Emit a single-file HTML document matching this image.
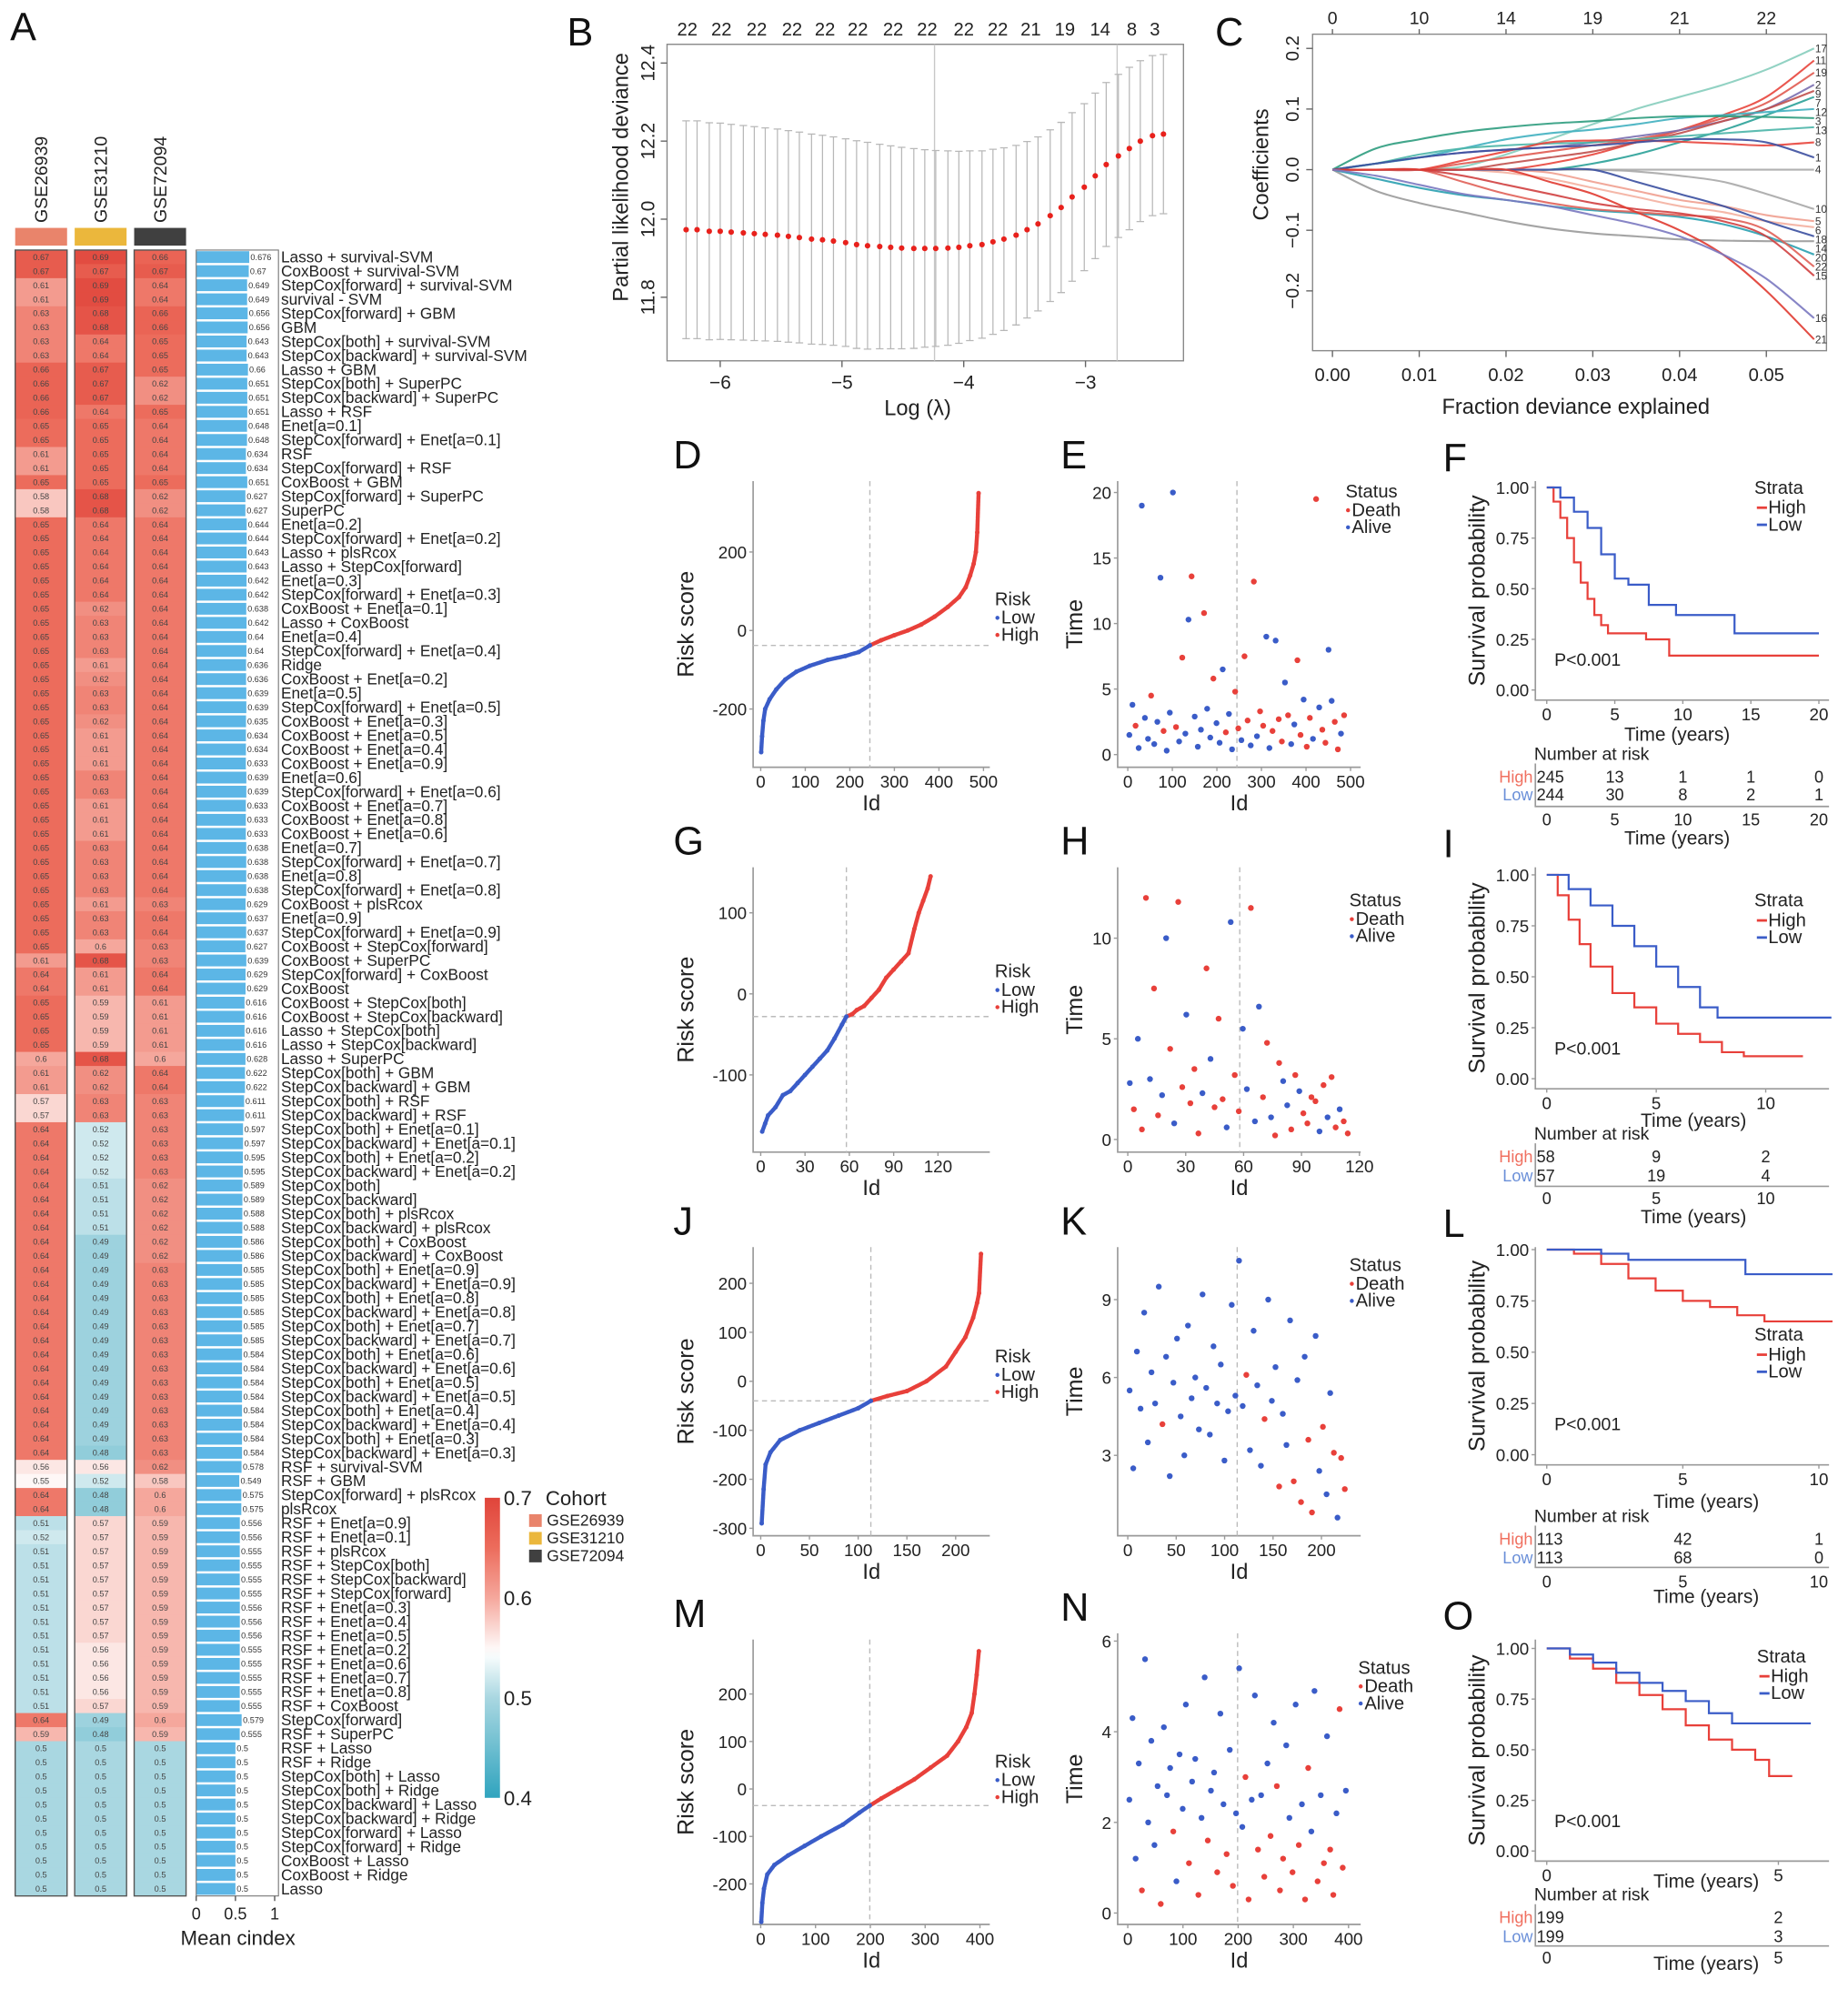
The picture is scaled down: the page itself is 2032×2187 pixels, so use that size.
<!DOCTYPE html>
<html><head><meta charset="utf-8">
<style>
html,body{margin:0;padding:0;background:#fff;}
svg{display:block;font-family:"Liberation Sans",Arial,sans-serif;}
</style></head>
<body>
<svg id="fig" width="2032" height="2187" viewBox="0 0 1460 1571" preserveAspectRatio="none" xmlns="http://www.w3.org/2000/svg">
<g id="gA"></g>
<g id="gB"></g>
<g id="gC"></g>
<g id="gRest"></g>
</svg>
<script>
// ================= DATA =================
const models=["Lasso + survival-SVM","CoxBoost + survival-SVM","StepCox[forward] + survival-SVM","survival - SVM","StepCox[forward] + GBM","GBM","StepCox[both] + survival-SVM","StepCox[backward] + survival-SVM","Lasso + GBM","StepCox[both] + SuperPC",
"StepCox[backward] + SuperPC","Lasso + RSF","Enet[a=0.1]","StepCox[forward] + Enet[a=0.1]","RSF","StepCox[forward] + RSF","CoxBoost + GBM","StepCox[forward] + SuperPC","SuperPC","Enet[a=0.2]",
"StepCox[forward] + Enet[a=0.2]","Lasso + plsRcox","Lasso + StepCox[forward]","Enet[a=0.3]","StepCox[forward] + Enet[a=0.3]","CoxBoost + Enet[a=0.1]","Lasso + CoxBoost","Enet[a=0.4]","StepCox[forward] + Enet[a=0.4]","Ridge",
"CoxBoost + Enet[a=0.2]","Enet[a=0.5]","StepCox[forward] + Enet[a=0.5]","CoxBoost + Enet[a=0.3]","CoxBoost + Enet[a=0.5]","CoxBoost + Enet[a=0.4]","CoxBoost + Enet[a=0.9]","Enet[a=0.6]","StepCox[forward] + Enet[a=0.6]","CoxBoost + Enet[a=0.7]",
"CoxBoost + Enet[a=0.8]","CoxBoost + Enet[a=0.6]","Enet[a=0.7]","StepCox[forward] + Enet[a=0.7]","Enet[a=0.8]","StepCox[forward] + Enet[a=0.8]","CoxBoost + plsRcox","Enet[a=0.9]","StepCox[forward] + Enet[a=0.9]","CoxBoost + StepCox[forward]",
"CoxBoost + SuperPC","StepCox[forward] + CoxBoost","CoxBoost","CoxBoost + StepCox[both]","CoxBoost + StepCox[backward]","Lasso + StepCox[both]","Lasso + StepCox[backward]","Lasso + SuperPC","StepCox[both] + GBM","StepCox[backward] + GBM",
"StepCox[both] + RSF","StepCox[backward] + RSF","StepCox[both] + Enet[a=0.1]","StepCox[backward] + Enet[a=0.1]","StepCox[both] + Enet[a=0.2]","StepCox[backward] + Enet[a=0.2]","StepCox[both]","StepCox[backward]","StepCox[both] + plsRcox","StepCox[backward] + plsRcox",
"StepCox[both] + CoxBoost","StepCox[backward] + CoxBoost","StepCox[both] + Enet[a=0.9]","StepCox[backward] + Enet[a=0.9]","StepCox[both] + Enet[a=0.8]","StepCox[backward] + Enet[a=0.8]","StepCox[both] + Enet[a=0.7]","StepCox[backward] + Enet[a=0.7]","StepCox[both] + Enet[a=0.6]","StepCox[backward] + Enet[a=0.6]",
"StepCox[both] + Enet[a=0.5]","StepCox[backward] + Enet[a=0.5]","StepCox[both] + Enet[a=0.4]","StepCox[backward] + Enet[a=0.4]","StepCox[both] + Enet[a=0.3]","StepCox[backward] + Enet[a=0.3]","RSF + survival-SVM","RSF + GBM","StepCox[forward] + plsRcox","plsRcox",
"RSF + Enet[a=0.9]","RSF + Enet[a=0.1]","RSF + plsRcox","RSF + StepCox[both]","RSF + StepCox[backward]","RSF + StepCox[forward]","RSF + Enet[a=0.3]","RSF + Enet[a=0.4]","RSF + Enet[a=0.5]","RSF + Enet[a=0.2]",
"RSF + Enet[a=0.6]","RSF + Enet[a=0.7]","RSF + Enet[a=0.8]","RSF + CoxBoost","StepCox[forward]","RSF + SuperPC","RSF + Lasso","RSF + Ridge","StepCox[both] + Lasso","StepCox[both] + Ridge",
"StepCox[backward] + Lasso","StepCox[backward] + Ridge","StepCox[forward] + Lasso","StepCox[forward] + Ridge","CoxBoost + Lasso","CoxBoost + Ridge","Lasso"];
const c26939=[.67,.67,.61,.61,.63,.63,.63,.63,.66,.66,.66,.66,.65,.65,.61,.61,.65,.58,.58,.65,
.65,.65,.65,.65,.65,.65,.65,.65,.65,.65,.65,.65,.65,.65,.65,.65,.65,.65,.65,.65,
.65,.65,.65,.65,.65,.65,.65,.65,.65,.65,.61,.64,.64,.65,.65,.65,.65,.6,.61,.61,
.57,.57,.64,.64,.64,.64,.64,.64,.64,.64,.64,.64,.64,.64,.64,.64,.64,.64,.64,.64,
.64,.64,.64,.64,.64,.64,.56,.55,.64,.64,.51,.52,.51,.51,.51,.51,.51,.51,.51,.51,
.51,.51,.51,.51,.64,.59,.5,.5,.5,.5,.5,.5,.5,.5,.5,.5,.5];
const c31210=[.69,.67,.69,.69,.68,.68,.64,.64,.67,.67,.67,.64,.65,.65,.65,.65,.65,.68,.68,.64,
.64,.64,.64,.64,.64,.62,.63,.63,.63,.61,.62,.63,.63,.62,.61,.61,.61,.63,.63,.61,
.61,.61,.63,.63,.63,.63,.61,.63,.63,.6,.68,.61,.61,.59,.59,.59,.59,.68,.62,.62,
.63,.63,.52,.52,.52,.52,.51,.51,.51,.51,.49,.49,.49,.49,.49,.49,.49,.49,.49,.49,
.49,.49,.49,.49,.49,.48,.56,.52,.48,.48,.57,.57,.57,.57,.57,.57,.57,.57,.57,.56,
.56,.56,.56,.57,.49,.48,.5,.5,.5,.5,.5,.5,.5,.5,.5,.5,.5];
const c72094=[.66,.67,.64,.64,.66,.66,.65,.65,.65,.62,.62,.65,.64,.64,.64,.64,.65,.62,.62,.64,
.64,.64,.64,.64,.64,.64,.64,.64,.64,.64,.64,.64,.64,.64,.64,.64,.64,.64,.64,.64,
.64,.64,.64,.64,.64,.64,.63,.64,.64,.63,.63,.64,.64,.61,.61,.61,.61,.6,.64,.64,
.63,.63,.63,.63,.63,.63,.62,.62,.62,.62,.62,.62,.63,.63,.63,.63,.63,.63,.63,.63,
.63,.63,.63,.63,.63,.63,.62,.58,.6,.6,.59,.59,.59,.59,.59,.59,.59,.59,.59,.59,
.59,.59,.59,.59,.6,.59,.5,.5,.5,.5,.5,.5,.5,.5,.5,.5,.5];
const meanC=[.676,.67,.649,.649,.656,.656,.643,.643,.66,.651,.651,.651,.648,.648,.634,.634,.651,.627,.627,.644,
.644,.643,.643,.642,.642,.638,.642,.64,.64,.636,.636,.639,.639,.635,.634,.634,.633,.639,.639,.633,
.633,.633,.638,.638,.638,.638,.629,.637,.637,.627,.639,.629,.629,.616,.616,.616,.616,.628,.622,.622,
.611,.611,.597,.597,.595,.595,.589,.589,.588,.588,.586,.586,.585,.585,.585,.585,.585,.585,.584,.584,
.584,.584,.584,.584,.584,.584,.578,.549,.575,.575,.556,.556,.555,.555,.555,.555,.556,.556,.556,.555,
.555,.555,.555,.555,.579,.555,.5,.5,.5,.5,.5,.5,.5,.5,.5,.5,.5];
const cohortNames=["GSE26939","GSE31210","GSE72094"];
const colorbarTicks=[0.4,0.5,0.6,0.7];
const barTicks=[0,0.5,1];

// Panel B
const lamB=[-6.28,-6.19,-6.09,-6.0,-5.91,-5.81,-5.72,-5.63,-5.53,-5.44,-5.35,-5.25,-5.16,-5.07,-4.97,-4.88,-4.79,-4.69,-4.6,-4.51,-4.41,-4.32,-4.23,-4.13,-4.04,-3.95,-3.85,-3.76,-3.67,-3.57,-3.48,-3.39,-3.29,-3.2,-3.11,-3.01,-2.92,-2.83,-2.73,-2.64,-2.55,-2.45,-2.36];
const devB=[11.973,11.973,11.969,11.969,11.967,11.965,11.963,11.961,11.959,11.956,11.953,11.949,11.947,11.944,11.940,11.935,11.932,11.930,11.928,11.926,11.925,11.925,11.925,11.926,11.928,11.932,11.935,11.942,11.949,11.959,11.973,11.988,12.009,12.030,12.057,12.082,12.111,12.140,12.162,12.181,12.2,12.214,12.218];
const seB=[.279,.279,.278,.277,.276,.275,.274,.273,.272,.271,.27,.269,.268,.267,.266,.266,.265,.262,.26,.258,.256,.253,.251,.249,.246,.243,.24,.237,.234,.23,.226,.223,.22,.218,.216,.214,.212,.21,.209,.208,.206,.205,.204];
const topLamB=[-6.27,-5.99,-5.70,-5.41,-5.14,-4.87,-4.58,-4.30,-4.0,-3.72,-3.45,-3.17,-2.88,-2.62,-2.43];
const topNB=[22,22,22,22,22,22,22,22,22,22,21,19,14,8,3];
const xTicksB=[-6,-5,-4,-3];
const yTicksB=[11.8,12.0,12.2,12.4];
const vlinesB=[-4.24,-2.74];

// Panel C
const coefXs=[0,0.005,0.01,0.015,0.02,0.025,0.03,0.035,0.04,0.045,0.05,0.0555];
const coefLabels=["17","11","19","2","9","7","12","3","13","8","1","4","10","5","6","18","14","20","22","15","21","16"];
const coefColors=["#86cdbd","#e8453c","#e05a50","#7a6fb0","#c0504d","#2aa198","#40b0c0","#2e9c7e","#4bb5a8","#e8453c","#3c4fa0","#aaaaaa","#a8a8a8","#f0a090","#f4b0a0","#3a4fa0","#9a9a9a","#2aa0b0","#e06058","#d04040","#e03a30","#7a78c0"];
const c17=[0,0,0,0.005,0.025,0.05,0.075,0.1,0.12,0.14,0.165,0.2];
const c11=[0,0,0,0,0,0.01,0.025,0.045,0.065,0.09,0.12,0.18];
const c19=[0,0,0,0.01,0.02,0.03,0.04,0.05,0.065,0.085,0.11,0.16];
const c2=[0,0.01,0.02,0.028,0.033,0.037,0.045,0.055,0.065,0.08,0.1,0.14];
const c9=[0,0,0,0,0.01,0.02,0.03,0.045,0.06,0.08,0.1,0.13];
const c7=[0,0,0,0,0,0,0.01,0.025,0.045,0.065,0.09,0.12];
const c12=[0,0.01,0.02,0.035,0.05,0.06,0.066,0.075,0.085,0.09,0.095,0.1];
const c3=[0,0.035,0.05,0.062,0.07,0.076,0.08,0.085,0.088,0.088,0.087,0.085];
const c13=[0,0.01,0.025,0.035,0.04,0.043,0.045,0.05,0.055,0.06,0.065,0.07];
const c8=[0,0,0,0.015,0.03,0.045,0.048,0.048,0.046,0.043,0.04,0.045];
const c1=[0,0.01,0.02,0.028,0.033,0.037,0.04,0.045,0.05,0.05,0.045,0.02];
const c4=[0,0,0,0,0,0,0,0,0,0,0,0];
const c10=[0,0,0,0,0,0,0,-0.003,-0.01,-0.02,-0.04,-0.065];
const c5=[0,0,0,0,0,-0.005,-0.02,-0.035,-0.05,-0.06,-0.075,-0.085];
const c6=[0,0,0,0,-0.005,-0.015,-0.03,-0.045,-0.06,-0.07,-0.085,-0.095];
const c18=[0,0,0,0,0,0,0,-0.02,-0.04,-0.06,-0.085,-0.11];
const c14=[0,-0.035,-0.055,-0.07,-0.085,-0.097,-0.105,-0.11,-0.115,-0.117,-0.118,-0.118];
const c20=[0,-0.015,-0.03,-0.042,-0.05,-0.06,-0.067,-0.072,-0.078,-0.09,-0.11,-0.14];
const c22=[0,0,0,-0.02,-0.04,-0.055,-0.065,-0.07,-0.075,-0.08,-0.1,-0.16];
const c15=[0,0,0,-0.01,-0.025,-0.04,-0.055,-0.065,-0.072,-0.085,-0.11,-0.175];
const c21=[0,0,0,0,0,-0.02,-0.04,-0.07,-0.1,-0.14,-0.2,-0.28];
const c16=[0,-0.01,-0.025,-0.04,-0.05,-0.06,-0.075,-0.09,-0.11,-0.14,-0.18,-0.245];
const coefSeries=[c17,c11,c19,c2,c9,c7,c12,c3,c13,c8,c1,c4,c10,c5,c6,c18,c14,c20,c22,c15,c21,c16];
const xTicksC=[0,0.01,0.02,0.03,0.04,0.05];
const topNC=[0,10,14,19,21,22];
const yTicksC=[-0.2,-0.1,0,0.1,0.2];

// Risk score curves (sorted): ids and scores
const idsD=[1,3,6,10,20,35,55,80,110,150,190,220,245,270,300,330,360,390,420,445,460,470,478,483,486,489];
const scoreD=[-310,-270,-230,-200,-175,-150,-125,-105,-90,-75,-65,-55,-38,-25,-12,0,15,35,60,85,110,140,170,200,250,350];
const idsG=[1,3,5,10,15,20,25,30,35,40,45,50,55,58,62,65,70,75,80,85,90,95,100,104,107,110,113,115];
const scoreG=[-170,-160,-150,-140,-125,-120,-110,-100,-90,-80,-70,-55,-38,-28,-25,-20,-15,-5,5,20,30,40,50,80,100,115,130,145];
const idsJ=[1,3,5,10,20,40,60,80,100,113,130,150,170,190,200,210,218,222,224,226];
const scoreJ=[-290,-220,-170,-145,-120,-100,-85,-70,-55,-40,-30,-20,0,30,60,90,130,160,180,260];
const idsM=[1,3,6,12,25,50,80,110,150,180,199,220,250,280,310,340,360,375,385,390,394,398];
const scoreM=[-280,-240,-210,-180,-160,-140,-120,-100,-75,-50,-35,-20,0,20,45,70,100,130,160,200,240,290];

// Survival time scatter (time by patient, ordered by risk id)
const timeE=[1.5,3.8,2.2,0.5,19,2.8,1.2,4.5,0.8,2.5,13.5,1.8,0.3,3.2,20,2.1,1.0,7.4,1.6,10.3,13.6,2.9,0.6,1.9,10.8,3.5,1.3,5.8,2.4,0.9,6.5,1.7,3.1,0.4,4.8,2.0,1.1,7.5,2.6,0.7,13.2,1.4,3.3,2.2,9.0,0.5,1.8,8.7,2.7,1.0,5.5,3.0,0.8,2.3,7.2,1.5,4.2,0.6,2.8,1.2,19.5,3.6,1.9,0.9,8.0,4.1,2.5,0.4,1.6,3.0];
const statusE="AADAAAADAAADAAADADAADAAADAADAAADAADDADDADADDAADADDADAADDADDADADDAADDAD";
const timeH=[2.8,1.5,5,0.5,12,3,7.5,1.2,2.2,10,4.5,0.8,11.8,2.6,6.2,1.8,3.5,0.3,2.3,8.5,4,1.6,6,2,0.6,10.8,3.2,1.4,5.5,2.5,11.5,0.9,6.6,2.1,4.8,1.1,0.2,3.8,2.9,1.7,0.5,3.2,2.4,1.3,0.8,2.1,1.9,0.4,2.7,1.1,3.1,0.6,1.5,0.9,0.3];
const statusH="ADADDADDAADADDADDDADADDDAADDAADAADDADDAADDADDDDADADDADD";
const timeK=[5.5,2.5,7,4.8,8.5,3.5,6.2,5,9.5,4.2,6.8,2.2,5.8,7.5,4.5,3,8,5.2,6,4,9.2,5.6,3.8,7.2,5,6.5,2.8,4.7,8.8,5.3,10.5,4.9,6.1,3.2,7.8,5.7,2.6,4.4,9,5.1,6.4,1.8,4.6,3.4,8.2,2,5.9,1.2,6.8,3.6,0.8,7.6,2.4,4.1,1.5,5.4,3.1,0.6,2.9,1.7];
const statusK="AAAAAAAAADAAAAAAAAAAAAAAAAAAAAAADAAAADAAADAAADADADDAADAADADD";
const timeN=[2.5,4.3,1.2,3.3,0.5,5.6,2,3.8,1.5,2.8,0.2,4.1,2.6,3.2,1.8,0.7,3.5,2.3,4.6,1.1,2.9,3.4,0.4,2.1,5.2,1.6,2.7,3.1,0.9,4.4,2.4,1.3,3.6,0.6,2.2,5.4,1.9,3,0.3,2.5,4.8,1.4,2.6,0.8,3.3,1.7,4.2,2.8,0.5,1.2,3.7,2.1,0.9,4.6,1.5,2.4,0.3,3.2,1.8,4.9,0.7,2.6,1.1,3.9,1.4,0.4,2.2,4.5,1,2.7];
const statusN="AAAADAAAAADAAADAAAADAADAADAADAADADAAADDAADADADADDDAADADADDAADADADDADDA";

// KM curves
const kmFHighT=[0,0.5,1,1.5,2,2.5,3,3.5,4,4.5,5,7.3,9,20];
const kmFHighS=[1,0.93,0.85,0.75,0.63,0.53,0.45,0.37,0.32,0.28,0.28,0.25,0.17,0.17];
const kmFLowT=[0,1,2,3,4,5,6,7.5,9.5,13.8,20];
const kmFLowS=[1,0.95,0.88,0.8,0.67,0.55,0.52,0.42,0.37,0.28,0.28];
const kmIHighT=[0,0.5,1,1.5,2,3,4,5,6,7,8,9,11.7];
const kmIHighS=[1,0.9,0.78,0.66,0.55,0.42,0.35,0.27,0.22,0.18,0.13,0.11,0.11];
const kmILowT=[0,1,2,3,4,5,6,7,7.8,13];
const kmILowS=[1,0.93,0.85,0.75,0.65,0.55,0.45,0.35,0.3,0.3];
const kmLHighT=[0,1,2,3,4,5,6,7,8,10.5];
const kmLHighS=[1,0.98,0.93,0.86,0.8,0.75,0.72,0.68,0.65,0.65];
const kmLLowT=[0,2,3,7.3,10.5];
const kmLLowS=[1,0.98,0.95,0.88,0.88];
const kmOHighT=[0,0.5,1,1.5,2,2.5,3,3.5,4,4.5,4.8,5.3];
const kmOHighS=[1,0.95,0.9,0.83,0.77,0.7,0.62,0.55,0.5,0.45,0.37,0.37];
const kmOLowT=[0,0.5,1,1.5,2,2.5,3,3.5,4,5.7];
const kmOLowS=[1,0.97,0.93,0.88,0.83,0.79,0.74,0.68,0.63,0.63];
const riskTimesF=[0,5,10,15,20], riskHighF=[245,13,1,1,0], riskLowF=[244,30,8,2,1];
const riskTimesI=[0,5,10], riskHighI=[58,9,2], riskLowI=[57,19,4];
const riskTimesL=[0,5,10], riskHighL=[113,42,1], riskLowL=[113,68,0];
const riskTimesO=[0,5], riskHighO=[199,2], riskLowO=[199,3];

// ================= DRAWING =================
const NS='http://www.w3.org/2000/svg';
function mk(tag,attrs,parent,txt){const e=document.createElementNS(NS,tag);for(const k in attrs)e.setAttribute(k,attrs[k]);if(txt!==undefined)e.textContent=txt;parent.appendChild(e);return e;}
const RED='#e8403a', BLUE='#3a5cc8', AX='#9a9a9a', TXT='#222';

function heatColor(v){
  const st=[[0.4,[48,164,190]],[0.5,[169,215,225]],[0.545,[255,255,255]],[0.6,[245,167,156]],[0.65,[236,108,92]],[0.7,[224,68,58]]];
  if(v<=st[0][0])return 'rgb('+st[0][1]+')';
  for(let i=1;i<st.length;i++){if(v<=st[i][0]){const t=(v-st[i-1][0])/(st[i][0]-st[i-1][0]);const a=st[i-1][1],b=st[i][1];return 'rgb('+a.map((c,j)=>Math.round(c+(b[j]-c)*t)).join(',')+')';}}
  return 'rgb('+st[st.length-1][1]+')';
}

function letter(g,ch,x,y){const t=mk('text',{x:x,y:y,'font-size':31,fill:'#111'},g,ch);

}

// ---------- Panel A ----------
(function(){
const g=document.getElementById('gA');
letter(g,'A',8,32);
const top0=197.5, pitch=(1497.5-197.5)/models.length;
const colX=[12,59,106], colW=41;
const cohortCols=['#e9846b','#ebb73c','#404040'];
const cols=[c26939,c31210,c72094];
for(let c=0;c<3;c++){
  const lab=mk('text',{x:0,y:0,'font-size':14,fill:TXT,transform:'translate('+(colX[c]+colW/2+5)+',176) rotate(-90)'},g,cohortNames[c]);
  
  
  const hb=mk('rect',{x:colX[c],y:180,width:colW,height:14,fill:cohortCols[c]},g);
  
  
  for(let r=0;r<models.length;r++){
    const v=cols[c][r];
    const cell=mk('rect',{x:colX[c],y:top0+r*pitch,width:colW,height:pitch+0.3,fill:heatColor(v)},g);
    
    
    const tv=mk('text',{x:colX[c]+colW/2,y:top0+r*pitch+pitch/2+2.3,'font-size':6.6,fill:'#444','text-anchor':'middle'},g,String(v));
    
    
  }
  const bx=mk('rect',{x:colX[c],y:top0,width:colW,height:pitch*models.length,fill:'none',stroke:'#555','stroke-width':1},g);
  
  
}
const bx0=155, bscale=62;
for(let r=0;r<models.length;r++){
  const y=top0+r*pitch;
  const b=mk('rect',{x:bx0,y:y+0.9,width:meanC[r]*bscale,height:pitch-1.8,fill:'#5cb6e6'},g);
  
  
  const t=mk('text',{x:bx0+meanC[r]*bscale+1,y:y+pitch/2+2.3,'font-size':6.6,fill:'#333'},g,String(meanC[r]));
  
  
  const lab=mk('text',{x:222,y:y+pitch/2+4.2,'font-size':12.4,fill:TXT},g,models[r]);
  
  
}
const bb=mk('rect',{x:bx0,y:top0,width:65,height:pitch*models.length,fill:'none',stroke:'#777','stroke-width':0.8},g);


for(const tk of barTicks){
  const x=bx0+tk*bscale;
  const l=mk('line',{x1:x,x2:x,y1:top0+pitch*models.length,y2:top0+pitch*models.length+4,stroke:'#555'},g);
  
  
  const t=mk('text',{x:x,y:1516,'font-size':13,'text-anchor':'middle',fill:TXT},g,String(tk));
  
  
}
const xt=mk('text',{x:188,y:1536,'font-size':16,'text-anchor':'middle',fill:TXT},g,'Mean cindex');


const defs=mk('defs',{},g);
const lg=mk('linearGradient',{id:'cbg',x1:0,y1:1,x2:0,y2:0},defs);
for(let i=0;i<=30;i++){const v=0.4+0.3*i/30;mk('stop',{offset:(i/30),'stop-color':heatColor(v)},lg);}
const cbTop=1183, cbBot=1420;
const cb=mk('rect',{x:383,y:cbTop,width:12,height:cbBot-cbTop,fill:'url(#cbg)'},g);


for(const v of colorbarTicks){
  const y=cbBot-(v-0.4)/0.3*(cbBot-cbTop);
  const t=mk('text',{x:398,y:y+6,'font-size':16,fill:TXT},g,v.toFixed(1));
  
  
}
const ct=mk('text',{x:431,y:1189,'font-size':16,fill:TXT},g,'Cohort');


for(let c=0;c<3;c++){
  const s=mk('rect',{x:418,y:1196+c*14,width:10,height:10,fill:cohortCols[c]},g);
  
  
  const t=mk('text',{x:432,y:1205+c*14,'font-size':12.5,fill:TXT},g,cohortNames[c]);
  
  
}
})();

// ---------- Panel B ----------
(function(){
const g=document.getElementById('gB');
letter(g,'B',448,36);
const L=527,R=935,T=35,B=285;
const xAt=l=>569+(l+6)*96.2, yAt=v=>49.8+(12.4-v)*308.3;
const box=mk('rect',{x:L,y:T,width:R-L,height:B-T,fill:'none',stroke:'#888','stroke-width':1},g);


for(const v of vlinesB){const l=mk('line',{x1:xAt(v),x2:xAt(v),y1:T,y2:B,stroke:'#c8c8c8','stroke-width':1},g);

}
for(let i=0;i<lamB.length;i++){
  const x=xAt(lamB[i]), y1=yAt(devB[i]+seB[i]), y2=yAt(devB[i]-seB[i]);
  const e=mk('path',{d:'M'+x+','+y1+'V'+y2+'M'+(x-3)+','+y1+'H'+(x+3)+'M'+(x-3)+','+y2+'H'+(x+3),stroke:'#b8b8b8','stroke-width':0.9,fill:'none'},g);
  
  
}
for(let i=0;i<lamB.length;i++){
  const d=mk('circle',{cx:xAt(lamB[i]),cy:yAt(devB[i]),r:2.2,fill:'#e8211c'},g);
  
  
}
for(const v of xTicksB){
  const l=mk('line',{x1:xAt(v),x2:xAt(v),y1:B,y2:B+5,stroke:'#666'},g);
  
  
  const t=mk('text',{x:xAt(v),y:B+22,'font-size':15,'text-anchor':'middle',fill:TXT},g,v<0?'\u2212'+Math.abs(v):String(v));
  
  
}
for(const v of yTicksB){
  const y=yAt(v);
  const l=mk('line',{x1:L-5,x2:L,y1:y,y2:y,stroke:'#666'},g);
  
  
  const t=mk('text',{x:0,y:0,'font-size':15,'text-anchor':'middle',fill:TXT,transform:'translate('+(L-10)+','+y+') rotate(-90)'},g,v.toFixed(1));
  
  
}
for(let i=0;i<topLamB.length;i++){
  const t=mk('text',{x:xAt(topLamB[i]),y:28,'font-size':14.5,'text-anchor':'middle',fill:TXT},g,String(topNB[i]));
  
  
}
const xt=mk('text',{x:725,y:328,'font-size':17,'text-anchor':'middle',fill:TXT},g,'Log (\u03bb)');


const yt=mk('text',{x:0,y:0,'font-size':17,'text-anchor':'middle',fill:TXT,transform:'translate(496,140) rotate(-90)'},g,'Partial likelihood deviance');


})();

// ---------- Panel C ----------
(function(){
const g=document.getElementById('gC');
letter(g,'C',960,36);
const L=1037,R=1443,T=27,B=277;
const xAt=f=>1052.7+f*6856, yAt=v=>134-v*478.8;
const box=mk('rect',{x:L,y:T,width:R-L,height:B-T,fill:'none',stroke:'#888','stroke-width':1},g);


function smooth(pts){let d='M'+pts[0][0]+','+pts[0][1];for(let i=0;i<pts.length-1;i++){const p0=pts[Math.max(0,i-1)],p1=pts[i],p2=pts[i+1],p3=pts[Math.min(pts.length-1,i+2)];
d+='C'+(p1[0]+(p2[0]-p0[0])/6)+','+(p1[1]+(p2[1]-p0[1])/6)+' '+(p2[0]-(p3[0]-p1[0])/6)+','+(p2[1]-(p3[1]-p1[1])/6)+' '+p2[0]+','+p2[1];}return d;}
for(let s=0;s<coefSeries.length;s++){
  const pts=coefXs.map((f,i)=>[xAt(f),yAt(coefSeries[s][i])]);
  const p=mk('path',{d:smooth(pts),fill:'none',stroke:coefColors[s],'stroke-width':1.5,opacity:0.9},g);
  
  
}
const ends=coefSeries.map((c,i)=>({y:yAt(c[c.length-1]),lab:coefLabels[i]})).sort((a,b)=>a.y-b.y);
let prev=-1e9;
for(const e of ends){let y=Math.max(e.y,prev+7.2);prev=y;
  const t=mk('text',{x:1434,y:y+3,'font-size':8.5,fill:'#333'},g,e.lab);
  
  }
for(let i=0;i<xTicksC.length;i++){
  const x=xAt(xTicksC[i]);
  const l=mk('line',{x1:x,x2:x,y1:B,y2:B+5,stroke:'#666'},g);
  
  
  const t=mk('text',{x:x,y:B+24,'font-size':14.5,'text-anchor':'middle',fill:TXT},g,xTicksC[i].toFixed(2));
  
  
  const l2=mk('line',{x1:x,x2:x,y1:T,y2:T-4,stroke:'#666'},g);
  
  
  const t2=mk('text',{x:x,y:19,'font-size':14,'text-anchor':'middle',fill:TXT},g,String(topNC[i]));
  
  
}
for(const v of yTicksC){
  const y=yAt(v);
  const l=mk('line',{x1:L-5,x2:L,y1:y,y2:y,stroke:'#666'},g);
  
  
  const t=mk('text',{x:0,y:0,'font-size':14.5,'text-anchor':'middle',fill:TXT,transform:'translate('+(L-11)+','+y+') rotate(-90)'},g,(v<0?'\u2212':'')+Math.abs(v).toFixed(1));
  
  
}
const xt=mk('text',{x:1245,y:327,'font-size':17,'text-anchor':'middle',fill:TXT},g,'Fraction deviance explained');


const yt=mk('text',{x:0,y:0,'font-size':17,'text-anchor':'middle',fill:TXT,transform:'translate(1002,130) rotate(-90)'},g,'Coefficients');


})();

// ---------- Generic helpers for D-O ----------
const gR=document.getElementById('gRest');
function axes(g,p,xticks,yticks,xfmt,yfmt){
  const a=mk('path',{d:'M'+p.L+','+p.T+'V'+p.B+'H'+p.R,stroke:AX,'stroke-width':1.2,fill:'none'},g);
  
  
  for(const v of xticks){const x=p.xAt(v);
    const l=mk('line',{x1:x,x2:x,y1:p.B,y2:p.B+3,stroke:AX},g);
    
    
    const t=mk('text',{x:x,y:p.B+16,'font-size':13.5,'text-anchor':'middle',fill:TXT},g,xfmt(v));
    
    }
  for(const v of yticks){const y=p.yAt(v);
    const l=mk('line',{x1:p.L-3,x2:p.L,y1:y,y2:y,stroke:AX},g);
    
    
    const t=mk('text',{x:p.L-5,y:y+5,'font-size':13.5,'text-anchor':'end',fill:TXT},g,yfmt(v));
    
    }
}
function ytitle(g,txt,x,y){const t=mk('text',{x:0,y:0,'font-size':18,'text-anchor':'middle',fill:TXT,transform:'translate('+x+','+y+') rotate(-90)'},g,txt);

}
function xtitle(g,txt,x,y,fs){const t=mk('text',{x:x,y:y,'font-size':fs||17,'text-anchor':'middle',fill:TXT},g,txt);

}
function legend(g,title,items,x,y){
  const t=mk('text',{x:x,y:y,'font-size':14.5,fill:TXT},g,title);
  
  
  items.forEach((it,i)=>{
    const m=mk('circle',{cx:x+2,cy:y+10+i*13.5,r:1.6,fill:it[1]},g);
    
    
    const tt=mk('text',{x:x+5,y:y+14.5+i*13.5,'font-size':14.5,fill:TXT},g,it[0]);
    
    
  });
}
function riskPanel(p,ids,scores,cut,hline,xticks,yticks,lx,ly){
  const g=mk('g',{},gR);
  
  
  letter(g,p.name.toUpperCase(),p.L-63,p.T-10);
  axes(g,p,xticks,yticks,v=>String(v),v=>(v<0?'-':'')+Math.abs(v));
  const hl=mk('line',{x1:p.L,x2:p.R,y1:p.yAt(hline),y2:p.yAt(hline),stroke:'#bbb','stroke-dasharray':'4,3'},g);
  
  
  const vl=mk('line',{x1:p.xAt(cut),x2:p.xAt(cut),y1:p.T,y2:p.B,stroke:'#bbb','stroke-dasharray':'4,3'},g);
  
  
  const low=[],high=[];
  ids.forEach((id,i)=>{const pt=p.xAt(id)+','+p.yAt(scores[i]);if(id<=cut)low.push(pt);if(id>=cut)high.push(pt);});
  const pl=mk('polyline',{points:low.join(' '),fill:'none',stroke:BLUE,'stroke-width':3.2,'stroke-linejoin':'round','stroke-linecap':'round','stroke-dasharray':'2.5,0.6'},g);
  
  
  const ph=mk('polyline',{points:high.join(' '),fill:'none',stroke:RED,'stroke-width':3.2,'stroke-linejoin':'round','stroke-linecap':'round','stroke-dasharray':'2.5,0.6'},g);
  
  
  ids.forEach((id,i)=>{const c=mk('circle',{cx:p.xAt(id),cy:p.yAt(scores[i]),r:1.8,fill:id<=cut?BLUE:RED},g);
    
    });
  ytitle(g,'Risk score',p.L-47,(p.T+p.B)/2);
  xtitle(g,'Id',(p.L+p.R)/2,p.B+34);
  legend(g,'Risk',[['Low',BLUE],['High',RED]],lx,ly);
}
function scatterPanel(p,times,status,n,cut,xticks,yticks,lx,ly){
  const g=mk('g',{},gR);
  
  
  letter(g,p.name.toUpperCase(),p.L-45,p.T-10);
  axes(g,p,xticks,yticks,v=>String(v),v=>String(v));
  const vl=mk('line',{x1:p.xAt(cut),x2:p.xAt(cut),y1:p.T,y2:p.B,stroke:'#bbb','stroke-dasharray':'4,3'},g);
  
  
  const step=n/times.length;
  times.forEach((t,i)=>{const c=mk('circle',{cx:p.xAt((i+0.5)*step),cy:p.yAt(t),r:2.3,fill:status[i]==='D'?RED:BLUE},g);
    
    });
  ytitle(g,'Time',p.L-28,(p.T+p.B)/2);
  xtitle(g,'Id',(p.L+p.R)/2,p.B+34);
  legend(g,'Status',[['Death',RED],['Alive',BLUE]],lx,ly);
}
function kmPanel(p,hT,hS,lT,lS,xticks,tab,lx,ly){
  const g=mk('g',{},gR);
  
  
  letter(g,p.name.toUpperCase(),p.L-73,p.T-8);
  axes(g,p,xticks,[0,0.25,0.5,0.75,1],v=>String(v),v=>v.toFixed(2));
  function stepPath(T,S){let d='M'+p.xAt(T[0])+','+p.yAt(S[0]);for(let i=1;i<T.length;i++){d+='H'+p.xAt(T[i])+'V'+p.yAt(S[i]);}return d;}
  const ph=mk('path',{d:stepPath(hT,hS),fill:'none',stroke:RED,'stroke-width':1.6},g);
  
  
  const pl=mk('path',{d:stepPath(lT,lS),fill:'none',stroke:BLUE,'stroke-width':1.6},g);
  
  
  ytitle(g,'Survival probability',p.L-40,(p.T+p.B)/2);
  const pv=mk('text',{x:p.L+15,y:p.yAt(0.15)+5,'font-size':14,fill:TXT},g,'P<0.001');
  
  
  xtitle(g,'Time (years)',tab.xt[0],tab.xt[1],15);
  const lt=mk('text',{x:lx,y:ly,'font-size':14.5,fill:TXT},g,'Strata');
  
  
  [['High',RED],['Low',BLUE]].forEach((it,i)=>{
    const m=mk('line',{x1:lx+2,x2:lx+10,y1:ly+11+i*13.5,y2:ly+11+i*13.5,stroke:it[1],'stroke-width':2},g);
    
    
    const t=mk('text',{x:lx+11,y:ly+15.5+i*13.5,'font-size':14.5,fill:TXT},g,it[0]);
    
    
  });
  const nar=mk('text',{x:p.L-1,y:tab.nar,'font-size':14,fill:TXT},g,'Number at risk');
  
  
  const tl=mk('path',{d:'M'+p.L+','+(tab.r1-11)+'V'+tab.line+'H'+p.R,stroke:AX,'stroke-width':1.2,fill:'none'},g);
  
  
  const rows=[['High',RED,tab.high,tab.r1],['Low','#4a78d0',tab.low,tab.r2]];
  rows.forEach(r=>{
    const lab=mk('text',{x:p.L-2,y:r[3]+4,'font-size':13,'text-anchor':'end',fill:r[0]==='High'?'#f07060':'#6a8fd8'},g,r[0]);
    
    
    tab.times.forEach((t,i)=>{
      const x=p.xAt(t);
      const tx=mk('text',{x:i===0?x-8:x,y:r[3]+4,'font-size':13,'text-anchor':i===0?'start':'middle',fill:TXT},g,String(r[2][i]));
      
      
    });
  });
  tab.times.forEach(t=>{
    const tx=mk('text',{x:p.xAt(t),y:tab.ticks,'font-size':13,'text-anchor':'middle',fill:TXT},g,String(t));
    
    
  });
  xtitle(g,'Time (years)',tab.xt2[0],tab.xt2[1],15);
}

riskPanel({name:'d',L:595,R:782,T:380,B:606,xAt:i=>601+i*0.352,yAt:v=>498-v*0.31},idsD,scoreD,245,-38,[0,100,200,300,400,500],[-200,0,200],786,478);
scatterPanel({name:'e',L:883,R:1075,T:380,B:606,xAt:i=>891+i*0.352,yAt:t=>596-t*10.35},timeE,statusE,489,245,[0,100,200,300,400,500],[0,5,10,15,20],1063,393);
kmPanel({name:'f',L:1213,R:1445,T:380,B:553,xAt:t=>1222+t*10.75,yAt:s=>545-s*160},kmFHighT,kmFHighS,kmFLowT,kmFLowS,[0,5,10,15,20],
 {times:riskTimesF,high:riskHighF,low:riskLowF,nar:600,r1:614,r2:628,line:637,ticks:652,xt:[1325,585],xt2:[1325,667]},1386,390);
riskPanel({name:'g',L:595,R:782,T:685,B:910,xAt:i=>601+i*1.167,yAt:v=>785-v*0.64},idsG,scoreG,58,-28,[0,30,60,90,120],[-100,0,100],786,772);
scatterPanel({name:'h',L:883,R:1075,T:685,B:910,xAt:i=>891+i*1.525,yAt:t=>900-t*15.9},timeH,statusH,115,58,[0,30,60,90,120],[0,5,10],1066,716);
kmPanel({name:'i',L:1213,R:1445,T:685,B:860,xAt:t=>1222+t*17.3,yAt:s=>852-s*161},kmIHighT,kmIHighS,kmILowT,kmILowS,[0,5,10],
 {times:riskTimesI,high:riskHighI,low:riskLowI,nar:900,r1:914,r2:929,line:937,ticks:951,xt:[1338,890],xt2:[1338,966]},1386,716);
riskPanel({name:'j',L:595,R:782,T:985,B:1213,xAt:i=>601+i*0.77,yAt:v=>1091-v*0.387},idsJ,scoreJ,113,-40,[0,50,100,150,200],[-300,-200,-100,0,100,200],786,1076);
scatterPanel({name:'k',L:883,R:1075,T:985,B:1213,xAt:i=>891+i*0.765,yAt:t=>1211-t*20.5},timeK,statusK,226,113,[0,50,100,150,200],[3,6,9],1066,1004);
kmPanel({name:'l',L:1213,R:1445,T:985,B:1157,xAt:t=>1222+t*21.5,yAt:s=>1149-s*162},kmLHighT,kmLHighS,kmLLowT,kmLLowS,[0,5,10],
 {times:riskTimesL,high:riskHighL,low:riskLowL,nar:1202,r1:1216,r2:1231,line:1238,ticks:1254,xt:[1348,1191],xt2:[1348,1266]},1386,1059);
riskPanel({name:'m',L:595,R:782,T:1295,B:1520,xAt:i=>601+i*0.433,yAt:v=>1413-v*0.375},idsM,scoreM,199,-35,[0,100,200,300,400],[-200,-100,0,100,200],786,1396);
scatterPanel({name:'n',L:883,R:1075,T:1290,B:1520,xAt:i=>891+i*0.436,yAt:t=>1511-t*35.8},timeN,statusN,398,199,[0,100,200,300,400],[0,2,4,6],1073,1322);
kmPanel({name:'o',L:1213,R:1445,T:1295,B:1470,xAt:t=>1222+t*36.6,yAt:s=>1462-s*160},kmOHighT,kmOHighS,kmOLowT,kmOLowS,[0,5],
 {times:riskTimesO,high:riskHighO,low:riskLowO,nar:1501,r1:1515,r2:1530,line:1537,ticks:1551,xt:[1348,1491],xt2:[1348,1556]},1388,1313);
</script>
</body></html>
